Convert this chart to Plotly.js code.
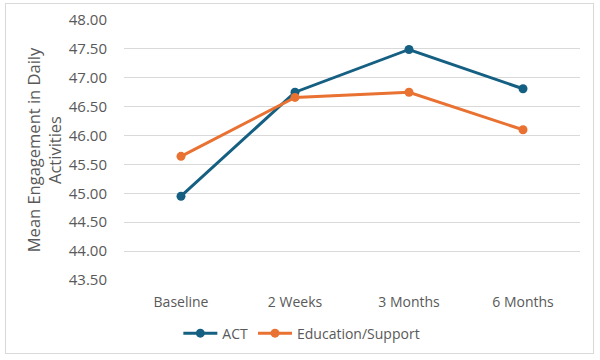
<!DOCTYPE html>
<html>
<head>
<meta charset="utf-8">
<script src="https://cdn.plot.ly/plotly-3.0.1.min.js"></script>
<style>
html,body{margin:0;padding:0;background:#fff;}
#wrap{position:absolute;left:0;top:0;width:600px;height:360px;}
#frame{position:absolute;left:5px;top:3px;width:589px;height:351px;border:1px solid #d9d9d9;box-sizing:border-box;pointer-events:none;}
#chart{position:absolute;left:0;top:0;width:600px;height:360px;}
</style>
</head>
<body>
<div id="wrap"><div id="chart"></div><div id="frame"></div></div>
<script>
const categories = ["Baseline", "2 Weeks", "3 Months", "6 Months"];
const actValues = [44.95, 46.75, 47.49, 46.81];
const eduValues = [45.64, 46.66, 46.75, 46.10];
const yTickVals = [43.5, 44, 44.5, 45, 45.5, 46, 46.5, 47, 47.5, 48];
const yTickText = ["43.50","44.00","44.50","45.00","45.50","46.00","46.50","47.00","47.50","48.00"];

const traces = [
  {x: categories, y: actValues, name: "ACT", type: "scatter", mode: "lines+markers",
   line: {color: "#156082", width: 3}, marker: {color: "#156082", size: 9}},
  {x: categories, y: eduValues, name: "Education/Support", type: "scatter", mode: "lines+markers",
   line: {color: "#E97132", width: 3}, marker: {color: "#E97132", size: 9}}
];

const layout = {
  width: 600, height: 360,
  margin: {l: 124, r: 20, t: 20, b: 79},
  paper_bgcolor: "rgba(0,0,0,0)", plot_bgcolor: "rgba(0,0,0,0)",
  font: {family: "Open Sans, Arial, sans-serif", color: "#595959", size: 13},
  showlegend: true,
  legend: {orientation: "h", x: 0.39, xanchor: "center", y: -0.14, yanchor: "top",
           font: {size: 14, color: "#595959"}, itemwidth: 34, tracegroupgap: 0},
  xaxis: {type: "category", range: [-0.5, 3.5], showgrid: false, zeroline: false, showline: false,
          ticks: "outside", ticklen: 9, tickcolor: "rgba(0,0,0,0)",
          tickfont: {size: 14, color: "#595959"}, fixedrange: true},
  yaxis: {range: [43.5, 48], tickvals: yTickVals, ticktext: yTickText,
          showgrid: true, gridcolor: "#d9d9d9", gridwidth: 1, zeroline: false, showline: false,
          ticks: "outside", ticklen: 13, tickcolor: "rgba(0,0,0,0)",
          tickfont: {size: 15, color: "#595959"},
          title: {text: "Mean Engagement in Daily<br>Activities", font: {size: 16.5, color: "#595959"}, standoff: 2}}
};

Plotly.newPlot("chart", traces, layout, {displayModeBar: false, staticPlot: true});
</script>
</body>
</html>
